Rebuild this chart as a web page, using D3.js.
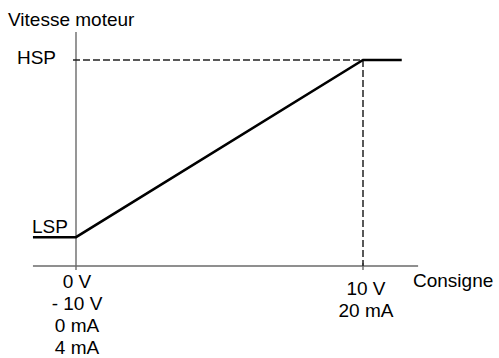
<!DOCTYPE html>
<html>
<head>
<meta charset="utf-8">
<script src="https://cdn.jsdelivr.net/npm/d3@7"></script>
<style>
  html, body { margin: 0; padding: 0; background: #fff; }
  svg { display: block; }
  text { font-family: "Liberation Sans", Arial, sans-serif; font-size: 19px; fill: #000; }
</style>
</head>
<body>
<svg id="chart" width="499" height="358"></svg>
<script>
// Speed curve: consigne (V) against motor speed (% of HSP)
const consigne = [-1.5, 0, 10, 11.35];
const vitesse = [14, 14, 100, 100];

// Speed levels labelled on the vertical axis
const speedLevels = [{ label: "HSP", value: 100 }, { label: "LSP", value: 14 }];

// Labels under the horizontal axis, one stack per tick
const tickValues = [0, 10];
const tickLabels = [["0 V", "- 10 V", "0 mA", "4 mA"], ["10 V", "20 mA"]];

const svg = d3.select("#chart");
const x = d3.scaleLinear().domain([0, 10]).range([76, 363]);
const y = d3.scaleLinear().domain([0, 100]).range([266, 60]);

const axisColor = "#6a6a6a";

// Horizontal axis
svg.append("line")
  .attr("x1", x(-1.5)).attr("x2", x(11.92))
  .attr("y1", y(0)).attr("y2", y(0))
  .attr("stroke", axisColor).attr("stroke-width", 1.4);

// Vertical axis (runs a little below the horizontal one, like a tick)
svg.append("line")
  .attr("x1", x(0)).attr("x2", x(0))
  .attr("y1", y(113.6)).attr("y2", y(0) + 4)
  .attr("stroke", axisColor).attr("stroke-width", 1.4);

// Tick at 10 V
svg.append("line")
  .attr("x1", x(10)).attr("x2", x(10))
  .attr("y1", y(0) - 3).attr("y2", y(0) + 4)
  .attr("stroke", axisColor).attr("stroke-width", 1.4);

// Dashed guides to the HSP corner
svg.append("line")
  .attr("x1", x(0) - 3).attr("x2", x(10))
  .attr("y1", y(100)).attr("y2", y(100))
  .attr("stroke", "#222").attr("stroke-width", 1.5)
  .attr("stroke-dasharray", "7,3");
svg.append("line")
  .attr("x1", x(10)).attr("x2", x(10))
  .attr("y1", y(100)).attr("y2", y(0))
  .attr("stroke", "#222").attr("stroke-width", 1.5)
  .attr("stroke-dasharray", "7,3");

// Speed curve
const line = d3.line().x((d, i) => x(consigne[i])).y(d => y(d));
svg.append("path")
  .datum(vitesse)
  .attr("d", line)
  .attr("fill", "none")
  .attr("stroke", "#000")
  .attr("stroke-width", 2.5)
  .attr("stroke-linejoin", "miter");

// Axis titles
svg.append("text").attr("x", 8).attr("y", 26).text("Vitesse moteur");
svg.append("text").attr("x", 413).attr("y", 287).text("Consigne");

// Speed level labels
svg.append("text").attr("x", 56).attr("y", y(speedLevels[0].value) + 4)
  .attr("text-anchor", "end").text(speedLevels[0].label);
svg.append("text").attr("x", 32).attr("y", y(speedLevels[1].value) - 4)
  .text(speedLevels[1].label);

// Stacked tick labels
const firstBaseline = [288, 295];
tickValues.forEach((v, i) => {
  tickLabels[i].forEach((t, j) => {
    svg.append("text")
      .attr("x", x(v) + (i === 1 ? 3 : 1))
      .attr("y", firstBaseline[i] + j * 22)
      .attr("text-anchor", "middle")
      .text(t);
  });
});
</script>
</body>
</html>
